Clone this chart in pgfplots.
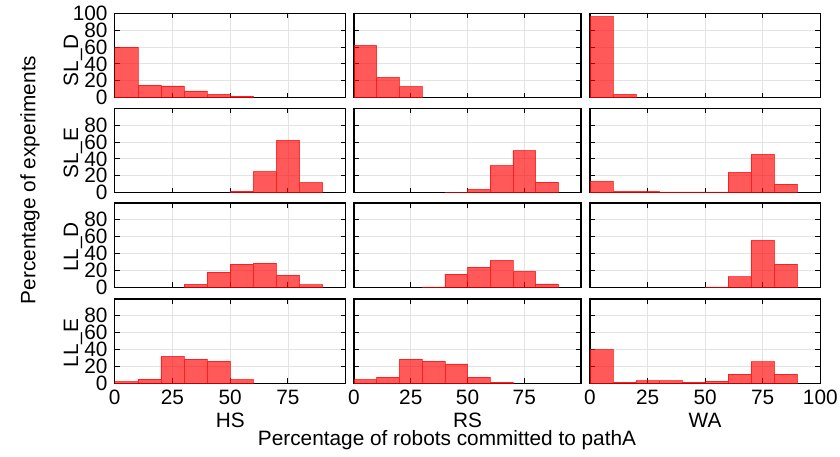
\documentclass[border=0pt]{standalone}
\usepackage{fontspec}
\setmainfont{Liberation Sans}
\usepackage{pgfplots}
\pgfplotsset{compat=1.18}
\begin{document}
\fontsize{20.8}{25}\selectfont
\begin{tikzpicture}[x=1pt,y=1pt]
\path[use as bounding box] (0pt,0pt) rectangle (840pt,456pt);
\pgfplotsset{
 panel/.style={scale only axis, width=#1, height=84.4pt,
   xmin=0,xmax=100,ymin=0,ymax=100,
   xtick={0,25,50,75,100}, ytick={0,20,40,60,80,100},
   grid=major, major grid style={draw=black!11, line width=0.9pt},
   tick align=inside, major tick length=5pt,
   tick style={black, line width=1pt},
   axis line style={line width=1.3pt},
   xticklabels={}, yticklabels={}, anchor=south west,
   /pgf/number format/assume math mode=true,
   every tick label/.append style={font=\fontsize{20.8}{25}\selectfont}},
 hbar/.style={ybar interval, fill=red, draw=red, opacity=0.65, line width=0.6pt},
}
% ---------- Row 1: SL_D
\begin{axis}[panel=231pt, at={(114.7pt,358.3pt)}, yticklabels={0,20,40,60,80,100}]
\addplot[hbar] coordinates {(0,60)(10,15)(20,14)(30,8)(40,4)(50,2)(60,0)};
\end{axis}
\begin{axis}[panel=227pt, at={(354pt,358.3pt)}]
\addplot[hbar] coordinates {(0,62)(10,24)(20,13)(30,0)};
\end{axis}
\begin{axis}[panel=230.3pt, at={(590pt,358.3pt)}]
\addplot[hbar] coordinates {(0,96)(10,4)(20,0)};
\end{axis}
% ---------- Row 2: SL_E
\begin{axis}[panel=231pt, at={(114.7pt,263.3pt)}, yticklabels={0,20,40,60,80,}]
\addplot[hbar] coordinates {(50,2)(60,25)(70,62)(80,12)(90,0)};
\end{axis}
\begin{axis}[panel=227pt, at={(354pt,263.3pt)}]
\addplot[hbar] coordinates {(40,0.5)(50,4)(60,32)(70,50)(80,12.5)(90,0)};
\end{axis}
\begin{axis}[panel=230.3pt, at={(590pt,263.3pt)}]
\addplot[hbar] coordinates {(0,13.3)(10,1.5)(20,1.5)(30,1)(40,1)(50,1)(60,24)(70,45.5)(80,10.2)(90,0)};
\end{axis}
% ---------- Row 3: LL_D
\begin{axis}[panel=231pt, at={(114.7pt,168.7pt)}, yticklabels={0,20,40,60,80,}]
\addplot[hbar] coordinates {(30,3.5)(40,18)(50,27.5)(60,28.6)(70,14.5)(80,3)(90,0)};
\end{axis}
\begin{axis}[panel=227pt, at={(354pt,168.7pt)}]
\addplot[hbar] coordinates {(30,0.5)(40,15.7)(50,24)(60,32)(70,19)(80,4)(90,0)};
\end{axis}
\begin{axis}[panel=230.3pt, at={(590pt,168.7pt)}]
\addplot[hbar] coordinates {(50,0.5)(60,12.5)(70,55.7)(80,27.5)(90,0)};
\end{axis}
% ---------- Row 4: LL_E
\begin{axis}[panel=231pt, at={(114.7pt,72.7pt)}, yticklabels={0,20,40,60,80,}, xticklabels={0,25,50,75,}]
\addplot[hbar] coordinates {(0,2)(10,5)(20,32)(30,28.6)(40,26.3)(50,4.3)(60,0)};
\end{axis}
\begin{axis}[panel=227pt, at={(354pt,72.7pt)}, xticklabels={0,25,50,75,}]
\addplot[hbar] coordinates {(0,4.3)(10,7.4)(20,28.6)(30,26.3)(40,23)(50,7.4)(60,1.5)(70,0)};
\end{axis}
\begin{axis}[panel=230.3pt, at={(590pt,72.7pt)}, xticklabels={0,25,50,75,100}]
\addplot[hbar] coordinates {(0,40)(10,1.5)(20,3)(30,3)(40,1.5)(50,2.7)(60,11)(70,25.5)(80,11)(90,0)};
\end{axis}
% ---------- labels
\node[rotate=90] at (73pt,396pt) {SL\_D};
\node[rotate=90] at (73pt,303pt) {SL\_E};
\node[rotate=90] at (73pt,209pt) {LL\_D};
\node[rotate=90] at (73pt,113pt) {LL\_E};
\node[rotate=90] at (30pt,276pt) {Percentage of experiments};
\node at (230.2pt,36pt) {HS};
\node at (467.5pt,36pt) {RS};
\node at (705pt,36pt) {WA};
\node at (447pt,16pt) {Percentage of robots committed to pathA};
\end{tikzpicture}
\end{document}
